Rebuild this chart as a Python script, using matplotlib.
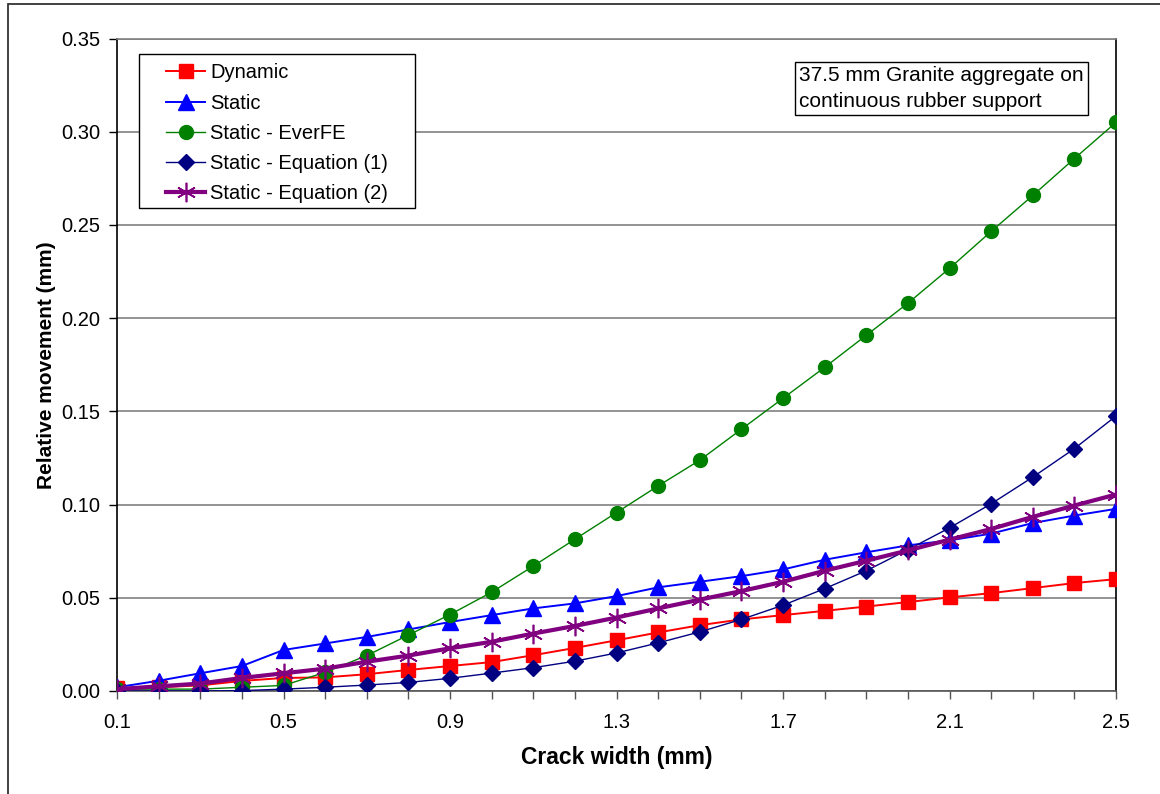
import numpy as np
import matplotlib
matplotlib.use('Agg')
import matplotlib.pyplot as plt
from matplotlib.patches import Rectangle
from matplotlib.ticker import FormatStrFormatter

plt.rcParams['font.family'] = ['Liberation Sans', 'DejaVu Sans']

# Crack width (mm)
crack = [0.1, 0.2, 0.3, 0.4, 0.5, 0.6, 0.7, 0.8, 0.9, 1.0, 1.1, 1.2, 1.3,
         1.4, 1.5, 1.6, 1.7, 1.8, 1.9, 2.0, 2.1, 2.2, 2.3, 2.4, 2.5]

# Relative movement (mm)
dynamic = [0.0015, 0.002, 0.003, 0.0054, 0.007, 0.0073, 0.009, 0.0113, 0.0134,
           0.0155, 0.0192, 0.0231, 0.0272, 0.0314, 0.0353, 0.0384, 0.0407,
           0.043, 0.0453, 0.0477, 0.0502, 0.0525, 0.0552, 0.0579, 0.060]
static = [0.002, 0.0055, 0.0095, 0.0134, 0.022, 0.0255, 0.029, 0.033, 0.037,
          0.0407, 0.0443, 0.047, 0.0509, 0.0556, 0.0586, 0.0616, 0.0652,
          0.0704, 0.0744, 0.0781, 0.0808, 0.0844, 0.0901, 0.0941, 0.0977]
everfe = [0.001, 0.001, 0.001, 0.002, 0.003, 0.010, 0.019, 0.030, 0.041,
          0.053, 0.067, 0.0814, 0.0957, 0.110, 0.1238, 0.1404, 0.157,
          0.1736, 0.1908, 0.208, 0.2267, 0.2465, 0.2658, 0.2856, 0.305]
equation1 = [0.0, 0.0, 0.0, 0.0002, 0.001, 0.002, 0.0032, 0.0046, 0.0068,
             0.0096, 0.0125, 0.016, 0.0204, 0.0258, 0.0317, 0.0384, 0.046,
             0.0549, 0.0645, 0.0758, 0.0875, 0.1004, 0.1147, 0.130, 0.1475]
equation2 = [0.001, 0.0025, 0.004, 0.007, 0.0095, 0.012, 0.0157, 0.019, 0.0229,
             0.0264, 0.0308, 0.0349, 0.0394, 0.0443, 0.049, 0.0536, 0.0586,
             0.0645, 0.0699, 0.0754, 0.0812, 0.0869, 0.0934, 0.0995, 0.1054]

x_labels = ['0.1', '0.5', '0.9', '1.3', '1.7', '2.1', '2.5']

fig = plt.figure(figsize=(11.6, 7.94), dpi=100)
ax = fig.add_axes([117 / 1160, 1 - 691 / 794, (1116 - 117) / 1160, (691 - 38.5) / 794])

# outer chart frame (only left and top edges visible in the crop)
fig.add_artist(Rectangle((7.5 / 1160, -0.2), 1.3, 1.2 - 4.5 / 794, transform=fig.transFigure,
                         fill=False, edgecolor='#333333', linewidth=1.3))

ax.plot(crack, dynamic, color='#FF0000', marker='s', markersize=10, linewidth=1.4,
        label='Dynamic', zorder=3)
ax.plot(crack, static, color='#0000FF', marker='^', markersize=11, linewidth=1.4,
        label='Static', zorder=4)
ax.plot(crack, everfe, color='#008000', marker='o', markersize=10, linewidth=1.0,
        label='Static - EverFE', zorder=5)
ax.plot(crack, equation1, color='#000080', marker='D', markersize=8, linewidth=1.0,
        label='Static - Equation (1)', zorder=6)
ax.plot(crack, equation2, color='#800080', marker=(6, 2, 0), markersize=14,
        markeredgewidth=1.2, linewidth=3.0, label='Static - Equation (2)', zorder=7)

ax.set_xlim(0.1, 2.5)
ax.set_ylim(0, 0.35)
ax.set_xticks(crack)
ax.set_xticklabels([f'{c:.1f}' if f'{c:.1f}' in x_labels else '' for c in crack])
ax.set_yticks(np.arange(0, 0.351, 0.05))
ax.yaxis.set_major_formatter(FormatStrFormatter('%.2f'))
ax.tick_params(axis='both', labelsize=14.5, direction='out', length=6, width=1,
               colors='black')
ax.tick_params(axis='x', pad=10, color='#555555')
ax.tick_params(axis='y', pad=6)

ax.grid(axis='y', color='#808080', linewidth=1.2)
ax.set_axisbelow(True)
ax.spines['left'].set_color('black')
ax.spines['right'].set_color('black')
ax.spines['bottom'].set_color('#555555')
ax.spines['top'].set_color('#808080')
for s in ax.spines.values():
    s.set_linewidth(1.2)

ax.set_xlabel('Crack width (mm)', fontsize=16.5, fontweight='bold', labelpad=10)
ax.set_ylabel('Relative movement (mm)', fontsize=15, fontweight='bold', labelpad=4)

# legend frame drawn separately so its padding matches the original
ax.add_patch(Rectangle((0.022, 0.740), 0.276, 0.236, transform=ax.transAxes,
                       facecolor='white', edgecolor='black', linewidth=1.0, zorder=8))
leg = ax.legend(loc='upper left', bbox_to_anchor=(0.049, 0.962), fontsize=14.5,
                frameon=False, handlelength=1.95, handletextpad=0.25,
                labelspacing=0.56, borderpad=0, borderaxespad=0)
leg.set_zorder(9)

ax.text(0.683, 0.958, '37.5 mm Granite aggregate on\ncontinuous rubber support',
        transform=ax.transAxes, fontsize=15, va='top', ha='left', linespacing=1.45,
        zorder=9, bbox=dict(boxstyle='square,pad=0.2', facecolor='white',
                            edgecolor='black', linewidth=1.0))

fig.savefig('out.png', dpi=100)
